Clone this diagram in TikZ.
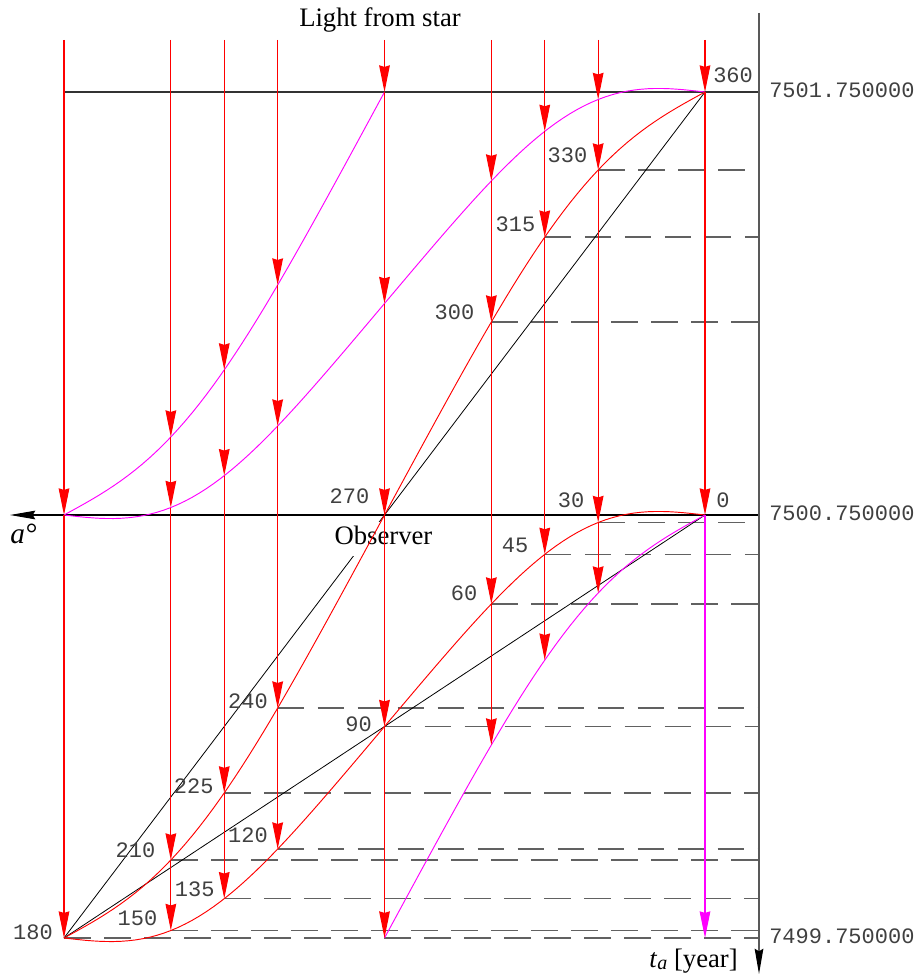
\documentclass[tikz,border=0pt]{standalone}
\usepackage{fontspec}
\setmainfont{Liberation Serif}
\newfontfamily\lblfont{Liberation Mono}
\usetikzlibrary{arrows.meta}
\definecolor{magc}{RGB}{255,0,255}
\definecolor{redc}{RGB}{255,0,0}
\begin{document}
\begin{tikzpicture}[x=0.75pt,y=-0.75pt,
  declare function={S(\p)=0.157*sin(2*\p)+0.015*sin(4*\p); PX(\p)=64+641/180*\p; YA(\p)=\p/180-S(\p); YB(\p)=\p/90-S(\p);},
  ray/.style={redc, line width=0.8pt, -{Stealth[length=20pt,width=8pt,inset=1.2pt]}},
  magray/.style={magc, line width=0.8pt, -{Stealth[length=20pt,width=8pt,inset=1.2pt]}},
  redcurve/.style={redc, line width=0.7pt},
  magcurve/.style={magc, line width=0.7pt},
  dashline/.style={black!62, line width=1.15pt, dash pattern=on 20pt off 10pt},
  diag/.style={black, line width=0.6pt},
  lbl/.style={font=\lblfont\fontsize{16.5}{18}\selectfont, text=black!75, inner sep=0pt},
  txt/.style={font=\fontsize{20}{24}\selectfont, text=black, inner sep=0pt},
  axarrow/.style={-{Stealth[length=19pt,width=6.5pt,inset=2pt,black]}}
]
\useasboundingbox (0,0) rectangle (919,974);

% ---- points on red curve A (a = 0..180) and B (a = 180..360)
\coordinate (a0)   at ({PX(180)},{938-423*YA(180)});
\coordinate (a30)  at ({PX(150)},{938-423*YA(150)});
\coordinate (a45)  at ({PX(135)},{938-423*YA(135)});
\coordinate (a60)  at ({PX(120)},{938-423*YA(120)});
\coordinate (a90)  at ({PX(90)},{938-423*YA(90)});
\coordinate (a120) at ({PX(60)},{938-423*YA(60)});
\coordinate (a135) at ({PX(45)},{938-423*YA(45)});
\coordinate (a150) at ({PX(30)},{938-423*YA(30)});
\coordinate (a180) at ({PX(0)},938);
\coordinate (b210) at ({PX(30)},{938-423*YB(30)});
\coordinate (b225) at ({PX(45)},{938-423*YB(45)});
\coordinate (b240) at ({PX(60)},{938-423*YB(60)});
\coordinate (b270) at ({PX(90)},{938-423*YB(90)});
\coordinate (b300) at ({PX(120)},{938-423*YB(120)});
\coordinate (b315) at ({PX(135)},{938-423*YB(135)});
\coordinate (b330) at ({PX(150)},{938-423*YB(150)});
\coordinate (b360) at ({PX(180)},92);
% ---- points on magenta curves
\coordinate (m1p0)  at ({PX(0)},515);
\coordinate (m1p30) at ({PX(30)},{515-423*YB(30)});
\coordinate (m1p45) at ({PX(45)},{515-423*YB(45)});
\coordinate (m1p60) at ({PX(60)},{515-423*YB(60)});
\coordinate (m1p90) at ({PX(90)},92);
\coordinate (m2p30)  at ({PX(30)},{515-423*YA(30)});
\coordinate (m2p45)  at ({PX(45)},{515-423*YA(45)});
\coordinate (m2p60)  at ({PX(60)},{515-423*YA(60)});
\coordinate (m2p90)  at ({PX(90)},{515-423*YA(90)});
\coordinate (m2p120) at ({PX(120)},{515-423*YA(120)});
\coordinate (m2p135) at ({PX(135)},{515-423*YA(135)});
\coordinate (m2p150) at ({PX(150)},{515-423*YA(150)});
\coordinate (m3p90)  at ({PX(90)},938);
\coordinate (m3p120) at ({PX(120)},{1361-423*YB(120)});
\coordinate (m3p135) at ({PX(135)},{1361-423*YB(135)});
\coordinate (m3p150) at ({PX(150)},{1361-423*YB(150)});
\coordinate (bot180) at ({PX(180)},938);
% ---- ray tops
\foreach \q in {0,30,45,60,90,120,135,150,180} \coordinate (t\q) at ({PX(\q)},40);
% ---- axes
\coordinate (axtop) at (759,13);
\coordinate (axbot) at (759,974);
\coordinate (midR) at (759,515);
\coordinate (midL) at (10,515);
\coordinate (topL) at (64,92);
\coordinate (topR) at (759,92);

% ---- dashed level lines
\foreach \n in {b330,b315,b300,a30,a45,a60,b240,a90,b225,a120,b210,a135,a150,a180}
  \draw[dashline] (\n) -- (\n -| axtop);

% ---- axes and solid lines
\draw[black!80, line width=0.8pt] (topL) -- (topR);
\draw[black, line width=0.8pt, axarrow] (midR) -- (midL);
\draw[black!65, line width=0.9pt, axarrow] (axtop) -- (axbot);

% ---- black diagonals
\draw[diag] (a180) -- (b360);
\draw[diag] (a180) -- (a0);

\node[txt, fill=white, inner xsep=1pt, inner ysep=3pt, text depth=6pt, anchor=base] (obs) at (383.5,544) {Observer};

% ---- curves
\draw[redcurve] plot[domain=0:180, samples=91, variable=\p] ({PX(\p)},{938-423*YA(\p)});
\draw[redcurve] plot[domain=0:180, samples=91, variable=\p] ({PX(\p)},{938-423*YB(\p)});
\draw[magcurve] plot[domain=0:90, samples=46, variable=\p] ({PX(\p)},{515-423*YB(\p)});
\draw[magcurve] plot[domain=0:180, samples=91, variable=\p] ({PX(\p)},{515-423*YA(\p)});
\draw[magcurve] plot[domain=90:180, samples=46, variable=\p] ({PX(\p)},{1361-423*YB(\p)});

% ---- light rays
\draw[ray] (t0) -- (m1p0);  \draw[ray] (m1p0) -- (a180);
\draw[ray] (t30) -- (m1p30); \draw[ray] (m1p30) -- (m2p30); \draw[ray] (m2p30) -- (b210); \draw[ray] (b210) -- (a150);
\draw[ray] (t45) -- (m1p45); \draw[ray] (m1p45) -- (m2p45); \draw[ray] (m2p45) -- (b225); \draw[ray] (b225) -- (a135);
\draw[ray] (t60) -- (m1p60); \draw[ray] (m1p60) -- (m2p60); \draw[ray] (m2p60) -- (b240); \draw[ray] (b240) -- (a120);
\draw[ray] (t90) -- (m1p90); \draw[ray] (m1p90) -- (m2p90); \draw[ray] (m2p90) -- (b270); \draw[ray] (b270) -- (a90); \draw[ray] (a90) -- (m3p90);
\draw[ray] (t120) -- (m2p120); \draw[ray] (m2p120) -- (b300); \draw[ray] (b300) -- (a60); \draw[ray] (a60) -- (m3p120);
\draw[ray] (t135) -- (m2p135); \draw[ray] (m2p135) -- (b315); \draw[ray] (b315) -- (a45); \draw[ray] (a45) -- (m3p135);
\draw[ray] (t150) -- (m2p150); \draw[ray] (m2p150) -- (b330); \draw[ray] (b330) -- (a30); \draw[ray] (a30) -- (m3p150);
\draw[ray] (t180) -- (b360); \draw[ray] (b360) -- (a0);
\draw[magray] (a0) -- (bot180);

% ---- texts
\node[txt, anchor=base] (title) at (380,27) {Light from star};
\node[anchor=base west, inner sep=0pt, font=\fontsize{22}{26}\selectfont\itshape] (alab) at (10,543) {a°};
\node[txt, anchor=base east] (tlab) at (738,967) {\textit{t}\raisebox{-1.5pt}{\fontsize{15}{16}\selectfont\itshape a} [year]};

\node[lbl, anchor=west] (l360) at (713,75.3) {360};
\node[lbl, anchor=west] (l0)   at (716,500) {0};
\node[lbl, anchor=east] (l330) at (587.5,155) {330};
\node[lbl, anchor=east] (l315) at (535.5,224.7) {315};
\node[lbl, anchor=east] (l300) at (474.5,312.5) {300};
\node[lbl, anchor=east] (l270) at (369.5,496) {270};
\node[lbl, anchor=east] (l30)  at (584.5,500) {30};
\node[lbl, anchor=east] (l45)  at (528.5,545.7) {45};
\node[lbl, anchor=east] (l60)  at (477.5,593.3) {60};
\node[lbl, anchor=east] (l240) at (268,701.5) {240};
\node[lbl, anchor=east] (l90)  at (372,724.3) {90};
\node[lbl, anchor=east] (l225) at (213.8,786) {225};
\node[lbl, anchor=east] (l120) at (268,835) {120};
\node[lbl, anchor=east] (l210) at (155.5,850) {210};
\node[lbl, anchor=east] (l135) at (214.8,889.7) {135};
\node[lbl, anchor=east] (l150) at (157.5,918) {150};
\node[lbl, anchor=east] (l180) at (53,932.5) {180};
\node[lbl, anchor=west] (v1) at (769,90.5) {7501.750000};
\node[lbl, anchor=west] (v2) at (769,513.5) {7500.750000};
\node[lbl, anchor=west] (v3) at (769,936.5) {7499.750000};
\end{tikzpicture}
\end{document}
